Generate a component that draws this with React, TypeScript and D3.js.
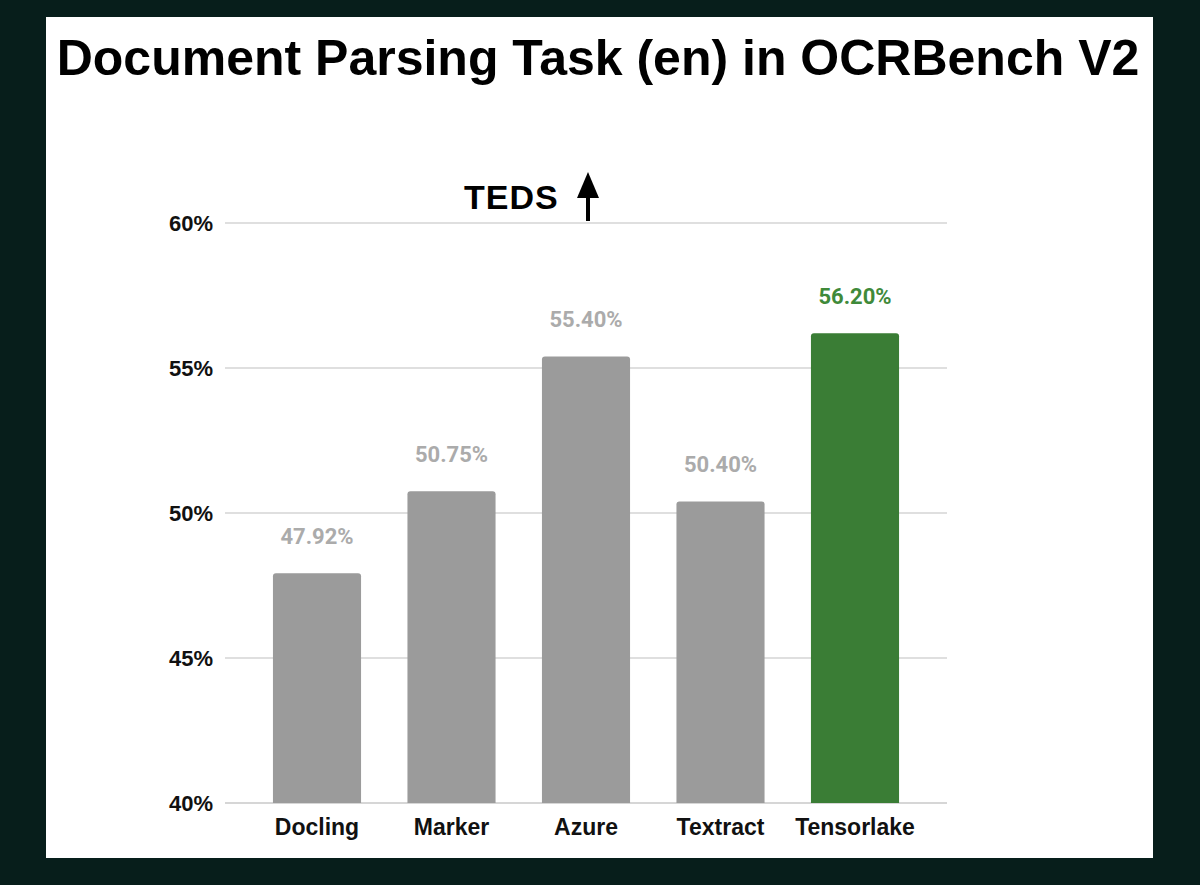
import React from "react";
import * as d3 from "d3";

const categories = ["Docling", "Marker", "Azure", "Textract", "Tensorlake"];
const values = [47.92, 50.75, 55.4, 50.4, 56.2];
const highlight = ["Tensorlake"];
const yTicks = [40, 45, 50, 55, 60];
const title = "Document Parsing Task (en) in OCRBench V2";
const metric = "TEDS";

const W = 1200;
const H = 885;
const FONT = "'Liberation Sans', Arial, Helvetica, sans-serif";
const VFONT = "Roboto, 'Liberation Sans', Arial, sans-serif";
const GRAY = "#9b9b9b";
const GRAY_LABEL = "#ababab";
const GREEN = "#3a7d35";
const GREEN_LABEL = "#3f8a3a";

export default function App() {
  const y = d3.scaleLinear().domain([40, 60]).range([803, 223]);
  const x = d3
    .scaleBand<string>()
    .domain(categories)
    .range([249.75, 922.25])
    .paddingInner(0.345)
    .paddingOuter(0.1725);
  const gridX0 = 225;
  const gridX1 = 947;
  const r = 3;

  const barPath = (x0: number, w: number, top: number, bottom: number) =>
    `M${x0},${bottom} L${x0},${top + r} Q${x0},${top} ${x0 + r},${top} L${x0 + w - r},${top} Q${x0 + w},${top} ${x0 + w},${top + r} L${x0 + w},${bottom} Z`;

  return (
    <svg
      width={W}
      height={H}
      style={{ position: "absolute", left: 0, top: 0, display: "block" }}
    >
      <rect x={0} y={0} width={W} height={H} fill="#071e1b" />
      <rect x={46} y={17} width={1107} height={841} fill="#ffffff" />
      <text
        x={598}
        y={75}
        textAnchor="middle"
        fontFamily={FONT}
        fontWeight="bold"
        fontSize={50}
        fill="#000"
      >
        {title}
      </text>
      {yTicks.map((t) => (
        <g key={t}>
          <line
            x1={gridX0}
            x2={gridX1}
            y1={y(t)}
            y2={y(t)}
            stroke={t === 40 ? "#c8c8c8" : "#d4d4d4"}
            strokeWidth={1.5}
          />
          <text
            x={213}
            y={y(t) + 8}
            textAnchor="end"
            fontFamily={FONT}
            fontWeight="bold"
            fontSize={22}
            fill="#111"
          >
            {t}%
          </text>
        </g>
      ))}
      <text
        x={464}
        y={209}
        fontFamily={FONT}
        fontWeight="bold"
        fontSize={34}
        letterSpacing={1}
        fill="#000"
      >
        {metric}
      </text>
      <line x1={588} x2={588} y1={192} y2={221} stroke="#000" strokeWidth={4} />
      <path d="M577,198 L588,172 L599,198 Z" fill="#000" />
      {categories.map((c, i) => {
        const isHi = highlight.includes(c);
        const x0 = x(c) as number;
        const bw = x.bandwidth();
        const top = y(values[i]);
        return (
          <g key={c}>
            <path d={barPath(x0, bw, top, y(40))} fill={isHi ? GREEN : GRAY} />
            <text
              x={x0 + bw / 2}
              y={top - 29}
              textAnchor="middle"
              fontFamily={VFONT}
              fontWeight="bold"
              fontSize={22}
              fill={isHi ? GREEN_LABEL : GRAY_LABEL}
            >
              {values[i].toFixed(2)}%
            </text>
            <text
              x={x0 + bw / 2}
              y={835}
              textAnchor="middle"
              fontFamily={FONT}
              fontWeight="bold"
              fontSize={23}
              fill="#111"
            >
              {c}
            </text>
          </g>
        );
      })}
    </svg>
  );
}
